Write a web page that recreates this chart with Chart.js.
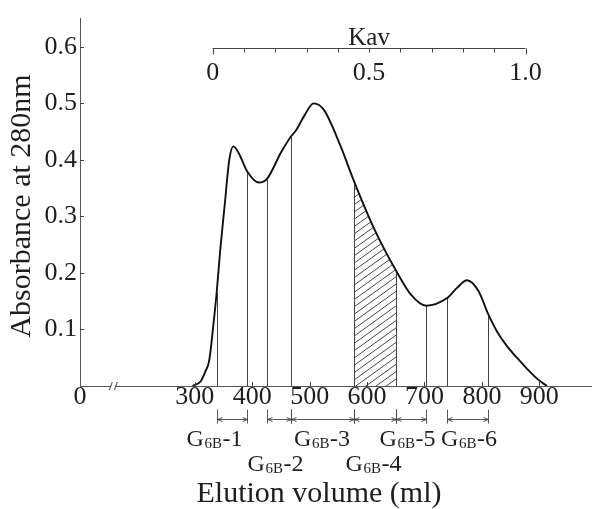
<!DOCTYPE html>
<html><head><meta charset="utf-8">
<script src="https://cdn.jsdelivr.net/npm/chart.js@4"></script>
<style>html,body{margin:0;padding:0;background:#fff;}canvas{display:block;}</style>
</head><body>
<canvas id="c" width="593" height="509"></canvas>
<script>
// ---- data ----
const elutionVolume = [296, 310, 318, 325, 333, 338, 344, 352, 360, 367, 377, 391, 412, 426, 450, 467, 476, 490, 507, 525, 554, 577, 612, 651, 676, 703, 740, 757, 774, 794, 811, 826, 844, 861, 879, 896, 913];
const absorbance    = [0, 0.008, 0.025, 0.045, 0.115, 0.165, 0.238, 0.32, 0.40, 0.424, 0.411, 0.38, 0.36, 0.367, 0.413, 0.441, 0.452, 0.477, 0.5, 0.488, 0.424, 0.363, 0.279, 0.203, 0.162, 0.142, 0.156, 0.174, 0.187, 0.168, 0.127, 0.097, 0.07, 0.05, 0.03, 0.013, 0];
const cutVolumes    = [338, 391, 426, 467, 577, 651, 703, 740, 811];
const fractionNames = ['1', '2', '3', '4', '5', '6'];
const fractionStart = [338, 426, 467, 577, 651, 740];
const fractionEnd   = [391, 467, 577, 651, 703, 811];
const fractionRow   = [0, 1, 0, 1, 0, 0];
const hatchedFraction = 3; // G6B-4
const xTicks = [300, 400, 500, 600, 700, 800, 900];
const yTicks = [0.1, 0.2, 0.3, 0.4, 0.5, 0.6];
const kavTicks = [0, 0.1, 0.2, 0.3, 0.4, 0.5, 0.6, 0.7, 0.8, 0.9, 1.0];
const kavLabels = [[0, '0'], [0.5, '0.5'], [1.0, '1.0']];
const kavV0 = 331;  // elution volume at Kav = 0
const kavVt = 876;  // elution volume at Kav = 1
const xMin = 100, xMax = 990, yMin = 0, yMax = 0.65;
const xBreakAt = 158;
const kavLevel = 0.598;

const FONT = "'Liberation Serif', 'Times New Roman', serif";
const INK = '#1e1e1e';
const labelDx = [-18, -4, -1, -2, -4, 1]; // label nudges (px)

const overlay = {
  id: 'overlay',
  beforeDatasetsDraw(chart) {
    const ctx = chart.ctx, xs = chart.scales.x, ys = chart.scales.y;
    const pts = chart.getDatasetMeta(0).data;
    const base = ys.getPixelForValue(0);
    const top = chart.chartArea.top;
    // hatched fraction
    const xa = xs.getPixelForValue(fractionStart[hatchedFraction]);
    const xb = xs.getPixelForValue(fractionEnd[hatchedFraction]);
    ctx.save();
    ctx.beginPath();
    ctx.moveTo(pts[0].x, pts[0].y);
    for (let i = 1; i < pts.length; i++) {
      const p = pts[i - 1], c = pts[i];
      ctx.bezierCurveTo(p.cp2x, p.cp2y, c.cp1x, c.cp1y, c.x, c.y);
    }
    ctx.lineTo(pts[pts.length - 1].x, base);
    ctx.lineTo(pts[0].x, base);
    ctx.closePath();
    ctx.clip();
    ctx.beginPath();
    ctx.rect(xa, top, xb - xa, base - top);
    ctx.clip();
    ctx.strokeStyle = '#333';
    ctx.lineWidth = 0.9;
    ctx.beginPath();
    const slope = 0.72, gap = 7.3, w = xb - xa;
    for (let y0 = base + w * slope + gap; y0 > top - gap; y0 -= gap) {
      ctx.moveTo(xa, y0);
      ctx.lineTo(xb, y0 - w * slope);
    }
    ctx.stroke();
    ctx.restore();
    // fraction cut lines
    ctx.save();
    ctx.strokeStyle = '#444';
    ctx.lineWidth = 1;
    cutVolumes.forEach(v => {
      const i = elutionVolume.indexOf(v);
      const p = pts[i];
      const x = Math.round(p.x) + 0.5;
      ctx.beginPath();
      ctx.moveTo(x, p.y);
      ctx.lineTo(x, base);
      ctx.stroke();
    });
    ctx.restore();
  },
  afterDraw(chart) {
    const ctx = chart.ctx, xs = chart.scales.x, ys = chart.scales.y;
    const base = ys.getPixelForValue(0);
    const axisX = xs.getPixelForValue(xMin);
    ctx.save();
    ctx.strokeStyle = '#444';
    ctx.fillStyle = INK;
    ctx.lineWidth = 1;
    // inward tick marks
    ctx.beginPath();
    xTicks.forEach(v => {
      const x = Math.round(xs.getPixelForValue(v)) + 0.5;
      ctx.moveTo(x, base); ctx.lineTo(x, base - 4);
    });
    yTicks.forEach(v => {
      const y = Math.round(ys.getPixelForValue(v)) + 0.5;
      ctx.moveTo(axisX, y); ctx.lineTo(axisX + 4, y);
    });
    ctx.stroke();
    // axis break
    const bx = xs.getPixelForValue(xBreakAt);
    ctx.fillStyle = '#fff';
    ctx.fillRect(bx - 2, base - 2, 4, 4);
    ctx.beginPath();
    ctx.moveTo(bx - 4, base + 4); ctx.lineTo(bx - 1, base - 4);
    ctx.moveTo(bx + 1, base + 4); ctx.lineTo(bx + 4, base - 4);
    ctx.stroke();
    // Kav axis
    const ky = Math.round(ys.getPixelForValue(kavLevel)) + 0.5;
    const kx = k => xs.getPixelForValue(kavV0 + k * (kavVt - kavV0));
    ctx.beginPath();
    ctx.moveTo(kx(0), ky); ctx.lineTo(kx(1), ky);
    kavTicks.forEach(k => {
      const x = Math.round(kx(k)) + 0.5;
      ctx.moveTo(x, ky); ctx.lineTo(x, ky + ((k === 0 || k === 1) ? 6 : 4));
    });
    ctx.stroke();
    ctx.fillStyle = INK;
    ctx.textAlign = 'center';
    ctx.textBaseline = 'alphabetic';
    ctx.font = '26px ' + FONT;
    kavLabels.forEach(([k, t]) => ctx.fillText(t, kx(k), ky + 31));
    ctx.font = '25px ' + FONT;
    ctx.fillText('Kav', kx(0.5), ky - 4);
    // fraction arrows
    const ay = 419.5;
    ctx.strokeStyle = '#444';
    ctx.lineWidth = 0.9;
    fractionNames.forEach((n, i) => {
      const a = Math.round(xs.getPixelForValue(fractionStart[i])) + 0.5;
      const b = Math.round(xs.getPixelForValue(fractionEnd[i])) + 0.5;
      ctx.beginPath();
      ctx.moveTo(a, ay - 10); ctx.lineTo(a, ay + 4);
      ctx.moveTo(b, ay - 10); ctx.lineTo(b, ay + 4);
      ctx.moveTo(a, ay); ctx.lineTo(b, ay);
      ctx.moveTo(a + 5, ay - 2); ctx.lineTo(a, ay); ctx.lineTo(a + 5, ay + 2);
      ctx.moveTo(b - 5, ay - 2); ctx.lineTo(b, ay); ctx.lineTo(b - 5, ay + 2);
      ctx.stroke();
      // label G6B-n
      const cx = (a + b) / 2 + labelDx[i];
      const by = fractionRow[i] === 0 ? 446 : 471;
      ctx.textAlign = 'left';
      ctx.font = '24px ' + FONT;
      const wG = ctx.measureText('G').width;
      const wR = ctx.measureText('-' + n).width;
      ctx.font = '15px ' + FONT;
      const wS = ctx.measureText('6B').width;
      let x = cx - (wG + wS + wR + 1) / 2;
      ctx.font = '24px ' + FONT;
      ctx.fillText('G', x, by); x += wG + 0.5;
      ctx.font = '15px ' + FONT;
      ctx.fillText('6B', x, by + 2); x += wS + 0.5;
      ctx.font = '24px ' + FONT;
      ctx.fillText('-' + n, x, by);
    });
    // axis titles
    ctx.textAlign = 'center';
    ctx.textBaseline = 'middle';
    ctx.font = '30px ' + FONT;
    ctx.fillText('Elution volume (ml)', 319, 494);
    ctx.translate(22, 206);
    ctx.rotate(-Math.PI / 2);
    ctx.fillText('Absorbance at 280nm', 0, 0);
    ctx.restore();
  }
};

new Chart(document.getElementById('c'), {
  type: 'line',
  data: {
    datasets: [{
      data: elutionVolume.map((v, i) => ({ x: v, y: absorbance[i] })),
      borderColor: '#111',
      borderWidth: 1.9,
      pointRadius: 0,
      fill: false,
      cubicInterpolationMode: 'monotone'
    }]
  },
  options: {
    responsive: false,
    animation: false,
    devicePixelRatio: 1,
    layout: { padding: { top: 14, right: 2, left: 0, bottom: 0 } },
    plugins: { legend: { display: false }, tooltip: { enabled: false } },
    scales: {
      x: {
        type: 'linear', min: xMin, max: xMax,
        grid: { display: false, drawTicks: false },
        border: { display: true, color: '#555', width: 1 },
        afterBuildTicks: s => { s.ticks = [xMin, ...xTicks].map(v => ({ value: v })); },
        afterFit: s => { s.height = 123; },
        ticks: {
          autoSkip: false, maxRotation: 0, minRotation: 0, padding: -4,
          color: INK, font: { family: FONT, size: 26 },
          callback: v => v === xMin ? '0' : String(v)
        }
      },
      y: {
        type: 'linear', min: yMin, max: yMax,
        grid: { display: false, drawTicks: false },
        border: { display: true, color: '#555', width: 1 },
        afterBuildTicks: s => { s.ticks = yTicks.map(v => ({ value: v })); },
        afterFit: s => { s.width = 80; },
        ticks: {
          padding: 3, color: INK, font: { family: FONT, size: 26 },
          callback: v => v.toFixed(1)
        }
      }
    }
  },
  plugins: [overlay]
});
</script>
</body></html>
